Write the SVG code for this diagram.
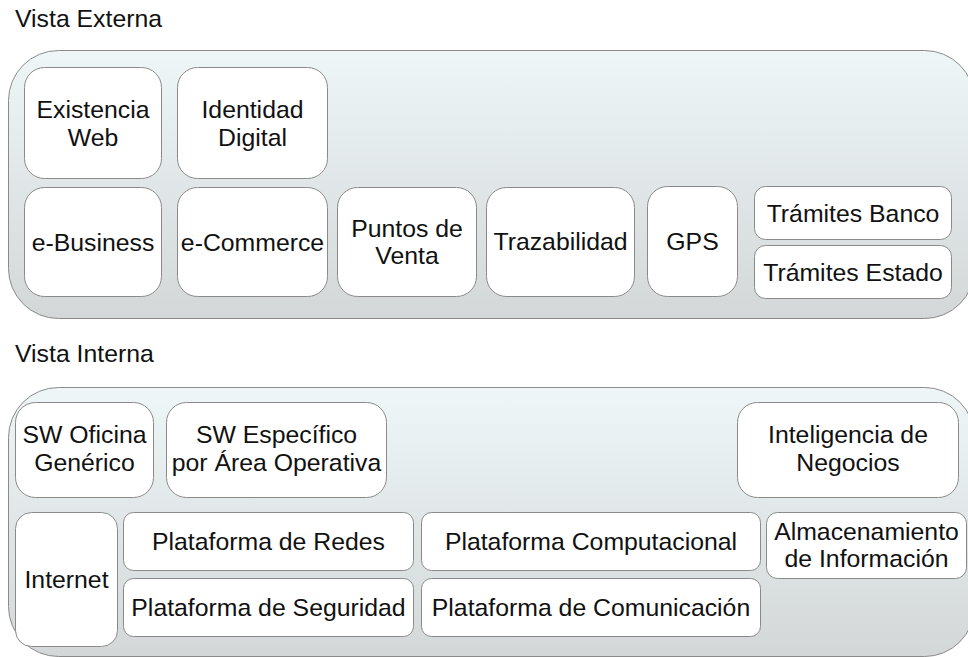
<svg xmlns="http://www.w3.org/2000/svg" width="968" height="657" viewBox="0 0 968 657">
<defs>
<linearGradient id="cg" x1="0" y1="0" x2="0" y2="1">
<stop offset="0" stop-color="#eef6f8"/>
<stop offset="1" stop-color="#d3d7d8"/>
</linearGradient>
<style>
.cont{fill:url(#cg);stroke:#8a8a8a;stroke-width:1}
.box{fill:#ffffff;stroke:#8a8a8a;stroke-width:1}
text{font-family:"Liberation Sans",Arial,sans-serif;font-size:24.8px;fill:#111}
.t{text-anchor:middle}
</style>
</defs>
<rect width="968" height="657" fill="#ffffff"/>
<text x="15" y="27">Vista Externa</text>
<text x="15" y="362">Vista Interna</text>
<g id="externa">
<rect class="cont" x="8.5" y="50.5" width="966" height="268" rx="50" ry="50"/>
</g>
<g id="interna">
<rect class="cont" x="8.5" y="387.5" width="966" height="269" rx="50" ry="50"/>
</g>
<g id="n-existencia"><rect class="box" x="24.5" y="67.5" width="137" height="111" rx="20"/><text class="t" x="93" y="118">Existencia</text><text class="t" x="93" y="146">Web</text></g>
<g id="n-identidad"><rect class="box" x="177.5" y="67.5" width="150" height="111" rx="20"/><text class="t" x="252.5" y="118">Identidad</text><text class="t" x="252.5" y="146">Digital</text></g>
<g id="n-ebusiness"><rect class="box" x="24.5" y="187.5" width="137" height="109" rx="20"/><text class="t" x="93" y="251">e-Business</text></g>
<g id="n-ecommerce"><rect class="box" x="177.5" y="187.5" width="150" height="109" rx="20"/><text class="t" x="252.5" y="251">e-Commerce</text></g>
<g id="n-puntos"><rect class="box" x="337.5" y="187.5" width="139" height="109" rx="20"/><text class="t" x="407" y="237">Puntos de</text><text class="t" x="407" y="264">Venta</text></g>
<g id="n-trazabilidad"><rect class="box" x="486.5" y="187.5" width="148" height="109" rx="20"/><text class="t" x="560.5" y="250">Trazabilidad</text></g>
<g id="n-gps"><rect class="box" x="647.5" y="186.5" width="90" height="110" rx="20"/><text class="t" x="692.5" y="250">GPS</text></g>
<g id="n-banco"><rect class="box" x="754.5" y="186.5" width="197" height="53" rx="11"/><text class="t" x="853" y="222">Trámites Banco</text></g>
<g id="n-estado"><rect class="box" x="754.5" y="245.5" width="197" height="53" rx="11"/><text class="t" x="853" y="281">Trámites Estado</text></g>
<g id="n-swoficina"><rect class="box" x="15.5" y="402.5" width="138" height="95" rx="20"/><text class="t" x="84.5" y="443">SW Oficina</text><text class="t" x="84.5" y="471">Genérico</text></g>
<g id="n-swespecifico"><rect class="box" x="166.5" y="402.5" width="220" height="95" rx="20"/><text class="t" x="276.5" y="443">SW Específico</text><text class="t" x="276.5" y="471">por Área Operativa</text></g>
<g id="n-inteligencia"><rect class="box" x="737.5" y="402.5" width="221" height="95" rx="20"/><text class="t" x="848" y="443">Inteligencia de</text><text class="t" x="848" y="471">Negocios</text></g>
<g id="n-internet"><rect class="box" x="15.5" y="512.5" width="102" height="134" rx="16"/><text class="t" x="66.5" y="588">Internet</text></g>
<g id="n-redes"><rect class="box" x="123.5" y="512.5" width="290" height="58" rx="10"/><text class="t" x="268.5" y="550">Plataforma de Redes</text></g>
<g id="n-seguridad"><rect class="box" x="123.5" y="578.5" width="290" height="58" rx="10"/><text class="t" x="268.5" y="616">Plataforma de Seguridad</text></g>
<g id="n-computacional"><rect class="box" x="421.5" y="512.5" width="339" height="58" rx="10"/><text class="t" x="591" y="550">Plataforma Computacional</text></g>
<g id="n-comunicacion"><rect class="box" x="421.5" y="578.5" width="339" height="58" rx="10"/><text class="t" x="591" y="616">Plataforma de Comunicación</text></g>
<g id="n-almacenamiento"><rect class="box" x="766.5" y="512.5" width="200" height="66" rx="11"/><text class="t" x="866.5" y="540">Almacenamiento</text><text class="t" x="866.5" y="567">de Información</text></g>
<g id="connectors"></g>
</svg>
